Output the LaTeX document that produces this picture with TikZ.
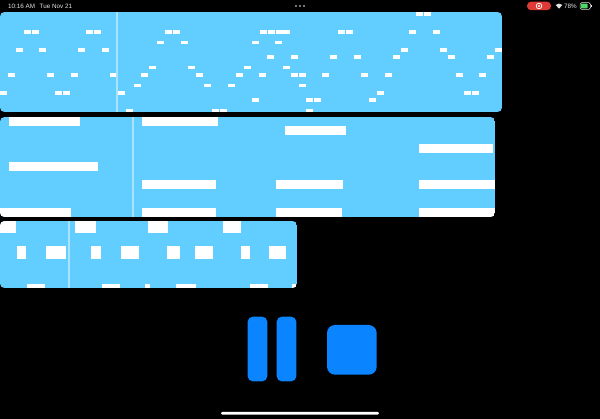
\documentclass[tikz,border=0pt]{standalone}
\usepackage{fontspec}
\setmainfont{Liberation Sans}
\definecolor{panelblue}{HTML}{62CEFF}
\definecolor{headblue}{HTML}{ABE3FF}
\definecolor{btnblue}{HTML}{0A84FF}
\definecolor{recred}{HTML}{DE3B36}
\definecolor{battgreen}{HTML}{4CD964}
\definecolor{statusgrey}{HTML}{E4E4E4}
\tikzset{
  notefill/.style={fill=white},
  playhead/.style={fill=headblue},
  btn/.style={fill=btnblue,rounded corners=5pt},
  statustext/.style={text=statusgrey,font=\fontsize{6.3}{7}\selectfont,inner sep=0pt,anchor=west},
}
\newcommand{\smallnotes}[2]{\foreach \nx in {#2}{\fill[notefill] (\nx,#1-1.9) rectangle (\nx+7,#1+1.9);}}
\newcommand{\bignote}[4]{\fill[notefill] (#1,#3) rectangle (#2,#4);}
\begin{document}
\begin{tikzpicture}[x=1pt,y=-1pt]
\useasboundingbox (0,0) rectangle (600,419);
\fill[black] (0,0) rectangle (600,419);
% status bar
\node[statustext] (clock) at (8,6) {10:16 AM};
\node[statustext] (date) at (39.5,6) {Tue Nov 21};
\foreach \dx in {296,300,304}{\fill[gray!75] (\dx,6) circle (1.1);}
\fill[recred,rounded corners=4pt] (527,1.7) rectangle (551,10.2);
\fill[white] (539,6) circle (3.2);
\fill[recred] (539,6) circle (2.2);
\fill[white] (539,6) circle (1.2);
\fill[statusgrey] (559,8.6) -- (555.6,5) arc[start angle=225,end angle=315,radius=4.8] -- cycle;
\node[statustext] (batt) at (564,6) {78\%};
\draw[statusgrey,line width=.5pt,rounded corners=1.5pt] (580,2.7) rectangle (590.5,9.3);
\fill[battgreen,rounded corners=.8pt] (581,3.6) rectangle (587.5,8.4);
\fill[statusgrey] (591.2,5) rectangle (592,7);
% panel 1
\begin{scope}
\clip[rounded corners=4.5pt] (0,12) rectangle (502,112);
\fill[panelblue] (0,12) rectangle (502,112);
\smallnotes{13.7}{416.3,424.3}
\smallnotes{32}{24,32,86,94,165,173,259.5,267.5,275.5,283.3,338,346,409,432.5}
\smallnotes{42.5}{157.3,181,251.5,275}
\smallnotes{49.7}{16,39.3,78.3,102,400.7,440,495}
\smallnotes{56.7}{267.3,291,330,353.7,393,448,487.3}
\smallnotes{67.5}{149.3,188.3,243.7,283}
\smallnotes{74.7}{8,47,70.7,110,141.3,196.3,236,259.3,291,299,322,361.3,385,456,479.3}
\smallnotes{85.5}{134,204.3,228,299}
\smallnotes{92.7}{0,55,63,118,377.3,464,472}
\smallnotes{99.7}{251.5,306.3,314.3,369.3}
\smallnotes{110.5}{126,212.3,220,306.3}
\fill[playhead] (116,12) rectangle (118,112);
\end{scope}
% panel 2
\begin{scope}
\clip[rounded corners=4.5pt] (0,117) rectangle (495,217);
\fill[panelblue] (0,117) rectangle (495,217);
\bignote{9}{80}{116.7}{125.7}
\bignote{142.3}{218}{116.7}{125.7}
\bignote{285}{346}{125.7}{134.7}
\bignote{419}{493.3}{144}{153}
\bignote{9}{98}{162.3}{171.3}
\bignote{142.3}{216}{180.3}{189.3}
\bignote{276}{343.3}{180.3}{189.3}
\bignote{419}{494.7}{180.3}{189.3}
\bignote{-1}{71.3}{208}{217}
\bignote{142.3}{216}{208}{217}
\bignote{276}{341.5}{208}{217}
\bignote{419}{495}{208}{217}
\fill[playhead] (131.5,117) rectangle (133.5,217);
\end{scope}
% panel 3
\begin{scope}
\clip[rounded corners=4.5pt] (0,221) rectangle (297,288);
\fill[panelblue] (0,221) rectangle (297,288);
\bignote{-1}{15.5}{221}{233.3}
\bignote{75}{95.7}{221}{233.3}
\bignote{148.3}{168.3}{221}{233.3}
\bignote{222.7}{240.7}{221}{233.3}
\bignote{17.3}{26.3}{246}{258.7}
\bignote{45.7}{66.3}{246}{258.7}
\bignote{91.3}{101.3}{246}{258.7}
\bignote{120.7}{139}{246}{258.7}
\bignote{167}{180}{246}{258.7}
\bignote{195}{213}{246}{258.7}
\bignote{241.3}{250.3}{246}{258.7}
\bignote{269.3}{286.3}{246}{258.7}
\bignote{27}{45}{284}{288}
\bignote{101.7}{119.7}{284}{288}
\bignote{145.3}{149.7}{284}{288}
\bignote{176}{196}{284}{288}
\bignote{250.3}{268}{284}{288}
\bignote{292.3}{297}{284}{288}
\fill[playhead] (68,221) rectangle (70,288);
\end{scope}
% controls
\fill[btn] (247.7,316.7) rectangle (267.3,381.3);
\fill[btn] (276.7,316.7) rectangle (296.3,381.3);
\fill[btn,rounded corners=8pt] (327,325) rectangle (376.7,374.7);
% home indicator
\fill[white,rounded corners=1.2pt] (221,412) rectangle (379,414.6);
\end{tikzpicture}
\end{document}
